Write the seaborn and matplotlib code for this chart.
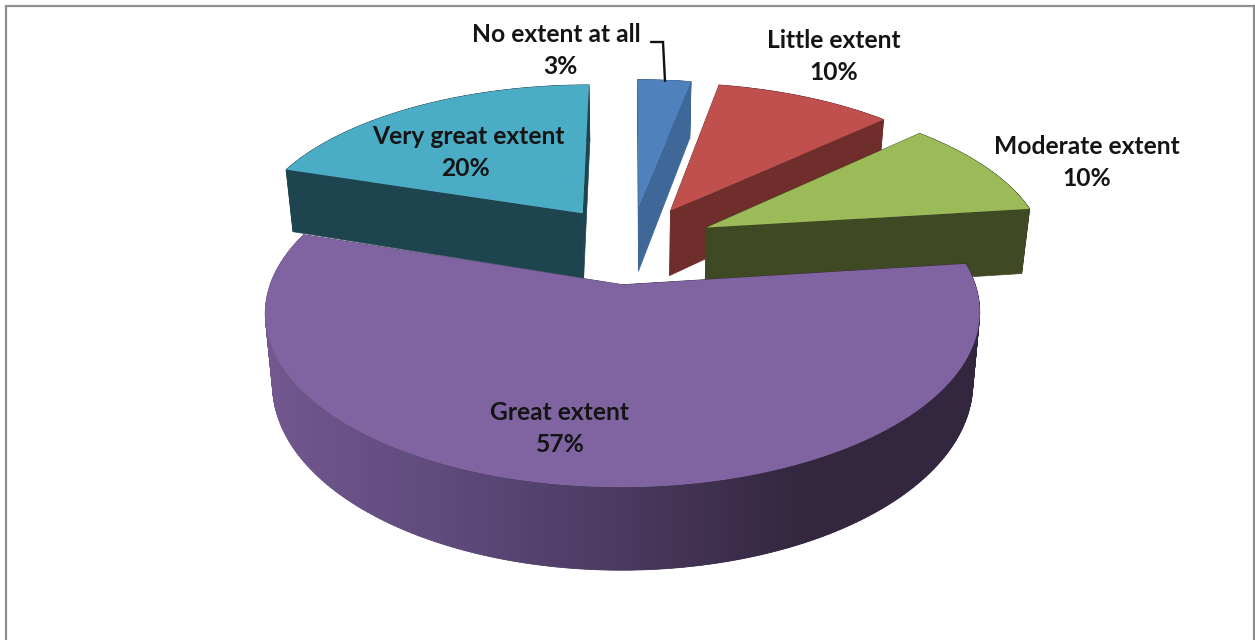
import numpy as np
import matplotlib
matplotlib.use("Agg")
import matplotlib.pyplot as plt
from matplotlib.collections import PolyCollection
from matplotlib.patches import Polygon
import seaborn as sns

# data
categories = ["No extent at all", "Little extent", "Moderate extent", "Great extent", "Very great extent"]
shares = [3, 10, 10, 57, 20]

top_colors = ["#4f81bd", "#c0504d", "#9bbb59", "#8064a2", "#4bacc6"]
wall_colors = ["#3f6899", "#6f2e2c", "#3f4a24", "#4a3a5e", "#1e4450"]
rim_stops = ["#72588f", "#5f4b7c", "#4a3a60", "#34273f", "#33263f"]

# layout, in pixels of the output image
name_xy = [(556, 35), (834, 41), (1087, 147), (560, 413), (468, 137)]
share_xy = [(560, 67), (834, 73), (1087, 179), (560, 445), (466, 169)]
draw_order = [4, 0, 1, 2, 3]
CX, CY = 631, 244
RX, RY = 339, 157
TILT = 0.155
DEPTH = 67
NARROW = 0.02
EXPLODE = 0.25
FONT_SIZE = 17.7

sns.set_theme(style="white")
plt.rcParams["font.family"] = ["Lato", "DejaVu Sans"]


def project(x, y, z=0.0):
    # perspective squash of the flat pie, z pushes the point down the side
    w = 1 / (1 + TILT * y)
    return np.column_stack([CX + RX * x * w * (1 - NARROW * z), CY - RY * y * w + DEPTH * w * z])


fig = plt.figure(figsize=(12.55, 6.4), dpi=100)
ax = fig.add_axes([0, 0, 1, 1])

wedges, _ = ax.pie(shares, explode=[EXPLODE] * len(shares), startangle=90,
                   counterclock=False, colors=top_colors)
outlines = []
for wedge in wedges:
    t = np.radians(np.linspace(wedge.theta1, wedge.theta2, 240))
    x = wedge.center[0] + wedge.r * np.cos(t)
    y = wedge.center[1] + wedge.r * np.sin(t)
    outlines.append((np.r_[wedge.center[0], x], np.r_[wedge.center[1], y]))
    wedge.remove()

rim_palette = np.array(sns.blend_palette(rim_stops, 256))[:, :3]

for i in draw_order:
    x, y = outlines[i]
    top = project(x, y)
    low = project(x, y, 1.0)
    n = len(x)
    quads, depth_key, colors = [], [], []
    left, right = top[:, 0].min(), top[:, 0].max()
    for a in range(n):
        b = (a + 1) % n
        quads.append([top[a], top[b], low[b], low[a]])
        depth_key.append(-(y[a] + y[b]))
        if i == 3:
            colors.append(rim_palette[int((top[a, 0] - left) / (right - left) * 255)])
        else:
            colors.append(wall_colors[i])
    # back walls first so the front ones cover them
    back_first = np.argsort(depth_key)
    ordered = [colors[k] for k in back_first]
    ax.add_collection(PolyCollection([quads[k] for k in back_first],
                                     facecolors=ordered, edgecolors=ordered, linewidths=0.5))
    if i == 3:
        # smooth the big slice's round side with a left to right shade
        side = np.vstack([top[1:], low[1:][::-1]])
        shade = ax.imshow(rim_palette[None, :, :], extent=[left, right, 640, 0],
                          aspect="auto", zorder=2)
        shade.set_clip_path(Polygon(side, transform=ax.transData))
    ax.fill(top[:, 0], top[:, 1], color=top_colors[i], lw=0, zorder=2.5 if i == 3 else 1.5)

ax.set_aspect("auto")
ax.set_xlim(0, 1255)
ax.set_ylim(640, 0)
ax.axis("off")

# data labels
for name, share, (nx, ny), (sx, sy) in zip(categories, shares, name_xy, share_xy):
    ax.text(nx, ny, name, ha="center", va="center", fontsize=FONT_SIZE, fontweight="bold", color="#141414", zorder=5)
    ax.text(sx, sy, f"{share}%", ha="center", va="center", fontsize=FONT_SIZE, fontweight="bold", color="#141414", zorder=5)

# leader line of the smallest slice
ax.plot([651, 663, 665], [42, 42, 81], color="#111111", lw=1.7, solid_joinstyle="miter", zorder=5)

# chart frame, cut by the page at the bottom
ax.plot([6, 6, 1254, 1254], [640, 6, 6, 640], color="#8e8e8e", lw=1.6, solid_joinstyle="miter", zorder=5)

fig.savefig("out.png", dpi=100, facecolor="white")
